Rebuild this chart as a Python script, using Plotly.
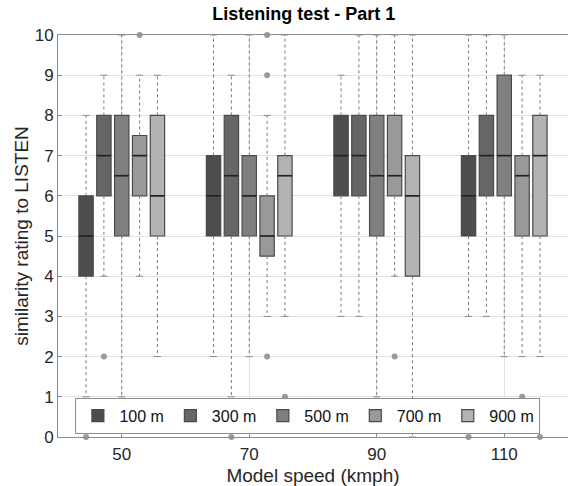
import plotly.graph_objects as go

speeds = [50, 70, 90, 110]
distances = ["100 m", "300 m", "500 m", "700 m", "900 m"]

q1 = {
    "100 m": [4, 5, 6, 5],
    "300 m": [6, 5, 6, 6],
    "500 m": [5, 5, 5, 6],
    "700 m": [6, 4.5, 6, 5],
    "900 m": [5, 5, 4, 5],
}
median = {
    "100 m": [5, 6, 7, 6],
    "300 m": [7, 6.5, 7, 7],
    "500 m": [6.5, 6, 6.5, 7],
    "700 m": [7, 5, 6.5, 6.5],
    "900 m": [6, 6.5, 6, 7],
}
q3 = {
    "100 m": [6, 7, 8, 7],
    "300 m": [8, 8, 8, 8],
    "500 m": [8, 7, 8, 9],
    "700 m": [7.5, 6, 8, 7],
    "900 m": [8, 7, 7, 8],
}
whisker_low = {
    "100 m": [1, 2, 3, 3],
    "300 m": [4, 1, 3, 3],
    "500 m": [1, 2, 1, 2],
    "700 m": [4, 3, 4, 2],
    "900 m": [2, 3, 0, 2],
}
whisker_high = {
    "100 m": [8, 10, 9, 10],
    "300 m": [9, 9, 10, 10],
    "500 m": [10, 10, 10, 10],
    "700 m": [9, 8, 10, 9],
    "900 m": [9, 10, 10, 9],
}
outliers = {
    "100 m": [[0], [], [], [0]],
    "300 m": [[2], [0], [], []],
    "500 m": [[], [], [], []],
    "700 m": [[10], [10, 9, 2], [2], [1]],
    "900 m": [[], [1], [], [0]],
}

fill_colors = ["#4d4d4d", "#666666", "#808080", "#999999", "#b3b3b3"]
spacing = 2.8
box_w = 2.25
cap_half = 0.55
font_family = "Liberation Sans, Arial, sans-serif"

fig = go.Figure()

for i, d in enumerate(distances):
    off = (i - 2) * spacing
    xs = [s + off for s in speeds]

    # dotted whiskers
    wx, wy = [], []
    cx, cy = [], []
    for j, x in enumerate(xs):
        wx += [x, x, None, x, x, None]
        wy += [q3[d][j], whisker_high[d][j], None, q1[d][j], whisker_low[d][j], None]
        for v in (whisker_high[d][j], whisker_low[d][j]):
            cx += [x - cap_half, x + cap_half, None]
            cy += [v, v, None]
    fig.add_trace(go.Scatter(x=wx, y=wy, mode="lines", showlegend=False, hoverinfo="skip",
                             line=dict(color="#7a7a7a", width=1, dash="dot")))
    fig.add_trace(go.Scatter(x=cx, y=cy, mode="lines", showlegend=False, hoverinfo="skip",
                             line=dict(color="#8a8a8a", width=1)))

    fig.add_trace(go.Box(
        name=d, x=xs, q1=q1[d], median=median[d], q3=q3[d],
        lowerfence=q1[d], upperfence=q3[d],
        width=box_w, whiskerwidth=0, boxpoints=False,
        fillcolor=fill_colors[i], line=dict(color="#4a4a4a", width=1.2),
        showlegend=True,
    ))

    # median lines
    mx, my = [], []
    for j, x in enumerate(xs):
        mx += [x - box_w / 2, x + box_w / 2, None]
        my += [median[d][j], median[d][j], None]
    fig.add_trace(go.Scatter(x=mx, y=my, mode="lines", showlegend=False, hoverinfo="skip",
                             line=dict(color="#222222", width=1.6)))

    # outliers
    ox, oy = [], []
    for j, x in enumerate(xs):
        for v in outliers[d][j]:
            ox.append(x)
            oy.append(v)
    if ox:
        fig.add_trace(go.Scatter(x=ox, y=oy, mode="markers", showlegend=False, cliponaxis=False,
                                 marker=dict(color="#9a9a9a", size=6)))

fig.update_layout(
    width=568, height=486,
    margin=dict(l=58, r=0, t=35, b=49),
    paper_bgcolor="white", plot_bgcolor="white",
    boxmode="overlay",
    font=dict(family=font_family, size=17, color="#262626"),
    title=dict(text="<b>Listening test - Part 1</b>", x=0.535, xref="container", xanchor="center",
               y=0.972, yref="container", yanchor="middle",
               font=dict(family=font_family, size=18, color="black")),
    xaxis=dict(range=[40, 120], tickvals=speeds, ticktext=[str(s) for s in speeds],
               showgrid=True, gridcolor="#e3e3e3", gridwidth=1,
               showline=True, linecolor="#8c8c8c", linewidth=1, mirror=True,
               ticks="inside", ticklen=5, tickcolor="#8c8c8c", zeroline=False,
               automargin=False, ticklabelstandoff=2,
               title=dict(text="Model speed (kmph)", standoff=7, font=dict(size=19)),
               tickfont=dict(size=17)),
    yaxis=dict(range=[0, 10], dtick=1, showgrid=True, gridcolor="#e3e3e3", gridwidth=1,
               showline=True, linecolor="#8c8c8c", linewidth=1, mirror=True,
               ticks="inside", ticklen=4, tickcolor="#8c8c8c", zeroline=False,
               automargin=False,
               title=dict(text="similarity rating to LISTEN", standoff=1, font=dict(size=19)),
               tickfont=dict(size=17)),
    legend=dict(orientation="h", x=0.49, y=0.053, xanchor="center", yanchor="middle",
                bgcolor="white", bordercolor="#8c8c8c", borderwidth=1,
                font=dict(size=16, color="#111111"), itemwidth=33,
                traceorder="normal"),
)

fig.write_html("out.html", config={"displayModeBar": False},
               post_script="document.body.style.margin='0px';")
